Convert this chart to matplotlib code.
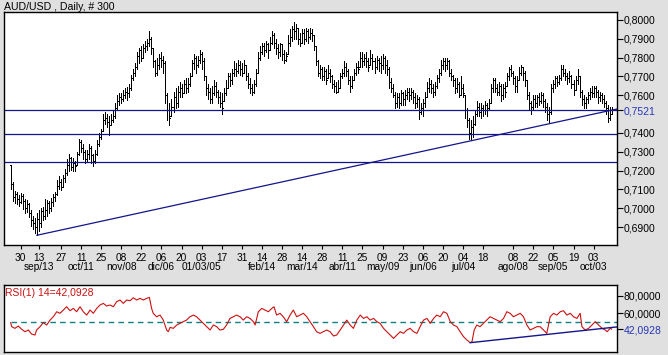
import numpy as np
import matplotlib
matplotlib.use("Agg")
import matplotlib.pyplot as plt
from matplotlib.transforms import blended_transform_factory

plt.rcParams['font.family'] = ['Liberation Sans', 'DejaVu Sans']

TITLE = "AUD/USD , Daily, # 300"

# daily closes / highs / lows (in 1e-4 units)
CLOSE = [7130,7060,7075,7050,7035,7065,7040,7000,7020,6975,
         6935,6920,6900,6945,6920,6985,6960,6990,7030,7000,
         7035,7060,7075,7120,7140,7115,7160,7185,7230,7265,
         7220,7240,7225,7290,7350,7320,7300,7260,7290,7320,
         7280,7250,7290,7340,7380,7395,7470,7480,7460,7440,
         7470,7490,7530,7570,7590,7580,7600,7620,7610,7640,
         7690,7720,7750,7810,7840,7800,7850,7860,7880,7900,
         7850,7780,7720,7760,7800,7790,7770,7600,7520,7480,
         7540,7590,7560,7620,7640,7610,7660,7640,7660,7700,
         7770,7800,7760,7790,7820,7780,7700,7640,7620,7580,
         7610,7650,7620,7590,7560,7530,7610,7640,7700,7680,
         7720,7740,7730,7760,7740,7720,7760,7700,7660,7640,
         7620,7660,7720,7800,7830,7860,7840,7870,7840,7880,
         7920,7880,7850,7830,7870,7820,7790,7810,7880,7910,
         7950,7940,7960,7900,7880,7930,7900,7940,7910,7930,
         7920,7860,7780,7720,7740,7700,7730,7680,7720,7700,
         7660,7650,7620,7640,7700,7720,7750,7730,7680,7650,
         7680,7720,7750,7740,7800,7780,7800,7780,7750,7800,
         7780,7750,7790,7770,7760,7800,7760,7740,7670,7640,
         7600,7560,7590,7560,7610,7580,7600,7620,7600,7620,
         7590,7560,7580,7510,7530,7560,7590,7640,7660,7640,
         7620,7650,7690,7720,7760,7780,7760,7780,7720,7700,
         7680,7640,7660,7600,7640,7610,7520,7470,7400,7430,
         7450,7500,7540,7510,7530,7520,7550,7530,7560,7640,
         7680,7640,7620,7650,7600,7640,7620,7700,7740,7720,
         7690,7650,7680,7720,7750,7720,7680,7600,7560,7540,
         7580,7560,7590,7570,7600,7570,7540,7500,7510,7640,
         7660,7690,7670,7690,7740,7720,7700,7690,7700,7660,
         7630,7680,7700,7620,7580,7560,7580,7600,7620,7610,
         7640,7620,7590,7600,7580,7560,7530,7480,7500,7521]
HIGH = [7228,7140,7090,7085,7070,7080,7075,7050,7045,7030,
        6990,6960,6950,6975,6990,7000,7005,7050,7045,7040,
        7055,7075,7085,7150,7170,7155,7175,7210,7260,7290,
        7270,7265,7250,7300,7370,7360,7340,7310,7310,7340,
        7330,7290,7310,7360,7400,7420,7500,7510,7500,7490,
        7500,7515,7560,7600,7610,7610,7630,7640,7645,7660,
        7710,7740,7770,7830,7850,7860,7870,7890,7900,7940,
        7910,7850,7790,7800,7820,7830,7810,7780,7610,7560,
        7580,7620,7640,7650,7670,7660,7680,7690,7690,7720,
        7790,7820,7810,7810,7840,7830,7800,7700,7660,7640,
        7650,7680,7670,7630,7620,7610,7640,7680,7720,7720,
        7740,7780,7770,7790,7780,7770,7790,7760,7720,7690,
        7660,7680,7740,7830,7860,7880,7880,7890,7880,7910,
        7940,7930,7900,7870,7880,7870,7840,7830,7920,7950,
        7970,7990,7980,7960,7930,7950,7950,7960,7950,7960,
        7950,7920,7860,7790,7760,7750,7750,7740,7760,7740,
        7710,7680,7670,7680,7720,7740,7780,7770,7740,7700,
        7700,7740,7770,7780,7830,7830,7820,7830,7800,7840,
        7820,7800,7810,7800,7810,7820,7810,7790,7750,7690,
        7660,7620,7610,7610,7630,7620,7630,7640,7640,7640,
        7630,7610,7600,7590,7560,7580,7620,7670,7690,7680,
        7660,7670,7710,7740,7790,7800,7800,7800,7790,7740,
        7710,7690,7690,7670,7700,7660,7600,7530,7480,7470,
        7490,7520,7570,7560,7560,7550,7570,7560,7580,7660,
        7690,7690,7660,7670,7660,7660,7670,7720,7750,7760,
        7730,7700,7700,7750,7760,7750,7730,7680,7620,7570,
        7600,7600,7600,7610,7620,7610,7580,7560,7540,7660,
        7680,7700,7700,7710,7760,7760,7740,7720,7730,7710,
        7680,7700,7740,7700,7630,7600,7590,7620,7640,7650,
        7650,7650,7630,7620,7610,7600,7570,7550,7540,7540]
LOW = [7104,7040,7030,7020,7010,7025,6995,6975,6980,6955,
       6905,6890,6870,6856,6880,6900,6935,6945,6960,6975,
       6985,7010,7040,7070,7100,7095,7110,7140,7175,7200,
       7205,7200,7195,7230,7280,7300,7260,7240,7250,7260,
       7240,7225,7240,7280,7330,7370,7410,7450,7430,7390,
       7440,7460,7480,7520,7550,7560,7570,7585,7575,7590,
       7630,7680,7700,7740,7770,7780,7800,7830,7840,7860,
       7820,7750,7700,7710,7740,7750,7720,7560,7470,7440,
       7490,7510,7530,7540,7590,7590,7610,7610,7620,7650,
       7700,7740,7720,7750,7770,7740,7680,7600,7580,7560,
       7560,7600,7590,7560,7540,7500,7570,7600,7640,7650,
       7660,7700,7700,7720,7710,7700,7720,7680,7640,7610,
       7600,7610,7650,7720,7790,7820,7810,7830,7800,7840,
       7870,7850,7820,7800,7810,7790,7770,7780,7820,7860,
       7890,7900,7900,7870,7860,7880,7870,7890,7880,7900,
       7890,7840,7760,7700,7690,7680,7680,7660,7690,7670,
       7640,7620,7610,7615,7640,7690,7700,7700,7660,7620,
       7640,7680,7710,7720,7750,7750,7760,7750,7730,7760,
       7740,7720,7740,7730,7720,7740,7720,7710,7640,7620,
       7590,7530,7540,7530,7550,7550,7550,7580,7570,7580,
       7560,7530,7540,7476,7500,7490,7540,7590,7620,7610,
       7590,7600,7640,7670,7710,7740,7730,7740,7700,7680,
       7650,7610,7620,7590,7600,7590,7480,7430,7370,7361,
       7380,7440,7490,7490,7480,7490,7500,7490,7520,7560,
       7620,7620,7600,7600,7570,7580,7590,7650,7680,7700,
       7660,7620,7620,7680,7710,7680,7650,7580,7520,7500,
       7520,7540,7540,7550,7560,7540,7510,7470,7458,7500,
       7620,7640,7650,7660,7680,7700,7680,7660,7670,7640,
       7600,7630,7660,7590,7550,7530,7530,7560,7580,7590,
       7590,7590,7560,7570,7560,7540,7500,7458,7470,7500]

LEVELS = [0.7521, 0.7392, 0.7244]
TREND = [(13, 0.6856), (299, 0.7521)]
LAST_PRICE = 0.7521
Y_TICKS = [0.69, 0.70, 0.71, 0.72, 0.73, 0.74, 0.76, 0.77, 0.78, 0.79, 0.80]

X_TICKS = [5, 14, 25, 35, 45, 55, 65, 75, 85, 95, 105, 115, 125, 135, 145,
           155, 165, 175, 185, 195, 205, 215, 225, 235, 250, 260, 270, 280, 290]
X_LABELS = ["30", "13", "27", "11", "25", "08", "22", "06", "20", "03", "17",
            "31", "14", "28", "14", "28", "11", "25", "09", "23", "06", "20",
            "04", "18", "08", "22", "05", "19", "03"]
MONTH_AT = [1, 3, 5, 7, 9, 12, 14, 16, 18, 20, 22, 24, 26, 28]
MONTH_TEXT = ["sep/13", "oct/11", "nov/08", "dic/06", "01/03/05", "feb/14",
              "mar/14", "abr/11", "may/09", "jun/06", "jul/04", "ago/08",
              "sep/05", "oct/03"]

RSI_IDX = [0, 0.5, 2.1, 3.8, 5.5, 7.1, 8.8, 10.4, 12.1, 12.9, 14.6, 16.2, 17.9,
           19.6, 21.2, 22.9, 24.5, 26.2, 27.8, 29.5, 31.2, 32.8, 34.5, 36.1,
           37.8, 39.5, 41.1, 42.8, 44.4, 46.1, 47.7, 49.4, 51.1, 52.7, 54.4,
           56.0, 57.7, 59.4, 61.0, 62.7, 64.3, 66.0, 67.6, 69.0, 70.1, 70.9,
           72.6, 74.3, 75.9, 77.6, 78.4, 79.3, 80.9, 82.6, 84.2, 85.9, 87.5,
           89.2, 90.9, 92.5, 94.2, 95.8, 97.5, 99.2, 100.8, 102.5, 104.1,
           105.8, 107.4, 109.1, 110.8, 112.4, 114.1, 115.7, 117.4, 119.1,
           120.7, 121.6, 123.2, 124.9, 126.5, 128.2, 129.9, 131.0, 132.3,
           134.0, 135.6, 137.3, 139.0, 140.6, 142.3, 143.9, 145.6, 147.3,
           148.9, 150.6, 152.2, 153.9, 155.6, 157.2,
           158.9, 160.6, 162.2, 163.9, 165.6, 167.2, 168.9, 170.5, 172.2,
           173.9, 175.5, 177.2, 178.8, 180.5, 182.2, 183.8, 185.5, 187.1,
           188.8, 190.5, 192.1, 193.8, 195.4, 197.1, 198.7, 200.4, 202.1,
           203.7, 205.4, 207.1, 208.7, 210.4, 212.0, 213.7, 215.3, 217.0,
           218.7, 220.3, 222.0, 223.6, 225.3, 227.0, 228.6, 229.5, 230.6,
           231.9, 233.5, 235.2, 236.9, 238.5, 240.2, 241.8, 243.5, 245.2,
           246.8, 248.5, 250.1, 251.8, 253.5, 255.1, 256.8, 258.4, 260.1,
           261.8, 263.4, 265.1, 266.7, 268.4, 270.1, 271.7, 273.4, 275.0,
           276.7, 278.4, 280.0, 281.7, 283.3, 284.2, 285.8, 287.5, 289.2,
           290.8, 292.5, 294.2, 295.8, 296.7, 298.3, 299.0]
RSI_VAL = [49.3, 44.8, 42.9, 45.5, 41.8, 39.1, 41.0, 36.4, 35.3, 41.0, 44.8,
           49.3, 46.7, 52.3, 56.1, 61.8, 60.0, 63.7, 67.5, 63.0, 65.6, 61.8,
           67.5, 61.8, 58.0, 63.7, 60.0, 65.6, 69.4, 71.3, 68.3, 69.4, 67.5,
           73.2, 75.1, 71.3, 75.1, 74.3, 77.7, 75.1, 77.0, 75.1, 77.0, 78.1,
           65.6, 60.0, 56.1, 58.0, 52.3, 41.0, 39.1, 44.0, 42.9, 46.7, 48.6,
           50.5, 52.3, 56.1, 58.0, 56.1, 52.3, 48.6, 44.8, 41.0, 46.7, 44.8,
           41.0, 41.8, 46.7, 54.2, 56.1, 58.0, 56.1, 52.3, 56.1, 54.2, 50.5,
           46.7, 61.8, 65.6, 63.7, 61.8, 65.6, 67.5, 58.0, 60.0, 56.1, 50.5,
           58.0, 63.7, 56.1, 58.0, 60.0, 56.1, 50.5, 44.8, 39.1, 37.2, 39.1,
           41.0,
           39.1, 34.2, 35.3, 41.0, 46.7, 52.3, 46.7, 42.9, 52.3, 58.0, 54.2,
           56.1, 52.3, 54.2, 50.5, 48.6, 42.9, 39.1, 35.3, 31.5, 35.3, 39.1,
           37.2, 41.0, 42.9, 39.1, 37.2, 44.8, 52.3, 54.2, 48.6, 54.2, 58.0,
           56.1, 61.8, 60.0, 50.5, 46.7, 44.8, 39.1, 33.4, 29.6, 26.6, 27.7,
           41.0, 46.7, 44.8, 48.6, 52.3, 56.1, 54.2, 52.3, 50.5, 54.2, 61.8,
           60.0, 56.1, 58.0, 60.0, 56.1, 46.7, 41.0, 42.9, 44.8, 44.8, 41.0,
           37.2, 56.1, 60.0, 58.0, 61.8, 63.0, 58.0, 60.0, 56.1, 54.2, 60.0,
           44.8, 41.0, 42.9, 46.7, 50.5, 46.7, 42.9, 41.0, 39.1, 42.9,
           42.09]
RSI_LAST = 42.0928
RSI_MID = 50
RSI_TICKS = [80, 60]
RSI_TREND = [(228.6, 26.6), (301.5, 44.5)]

BG = '#e0e0e0'
BLUE = '#14148c'
LBLUE = '#2636b8'
RED = '#cc1010'
TEAL = '#108080'

W, H = 668, 355
fig = plt.figure(figsize=(W / 100, H / 100), dpi=100, facecolor=BG)
ax = fig.add_axes([4 / W, 1 - 245 / H, 613 / W, 233 / H])
rx = fig.add_axes([4 / W, 1 - 352 / H, 613 / W, 67 / H])

XMIN, XMAX = -3.33, 301.64
n = len(CLOSE)
idx = np.arange(n)
c = np.array(CLOSE) / 1e4
hi = np.array(HIGH) / 1e4
lo = np.array(LOW) / 1e4
op = np.clip(np.concatenate([[hi[0]], c[:-1]]), lo, hi)

ax.vlines(idx, lo, hi, color='black', lw=0.55, antialiased=False)
ax.hlines(op, idx - 0.5, idx, color='black', lw=0.55, antialiased=False)
ax.hlines(c, idx, idx + 0.5, color='black', lw=0.55, antialiased=False)

for lv in LEVELS:
    ax.axhline(lv, color=BLUE, lw=0.9)
(x0, y0), (x1, y1) = TREND
slope = (y1 - y0) / (x1 - x0)
ax.plot([x0, XMAX], [y0, y0 + slope * (XMAX - x0)], color=BLUE, lw=0.9)

ax.set_xlim(XMIN, XMAX)
ax.set_ylim(0.68044, 0.80425)
ax.set_facecolor('white')
for s in ax.spines.values():
    s.set_color('black'); s.set_linewidth(1.0)

yt = Y_TICKS + [LAST_PRICE]
ax.set_yticks(yt)
ax.set_yticklabels([f"{v:.4f}".replace('.', ',') for v in yt])
ax.yaxis.tick_right()
ax.tick_params(axis='y', direction='out', length=4, width=0.8, pad=1,
               labelsize=7.5, colors='black')
for lab, v in zip(ax.get_yticklabels(), yt):
    if v == LAST_PRICE:
        lab.set_color(LBLUE)

ax.set_xticks(X_TICKS)
ax.set_xticklabels(X_LABELS)
ax.tick_params(axis='x', direction='out', length=3, width=0.8, pad=3,
               labelsize=7.3)
tr = blended_transform_factory(ax.transData, fig.transFigure)
for k, t in zip(MONTH_AT, MONTH_TEXT):
    ax.text(X_TICKS[k], 1 - 267 / H, t, transform=tr, ha='center',
            va='center', fontsize=7.3)

fig.text(4 / W, 1 - 10.5 / H, TITLE, fontsize=7.6, ha='left', va='baseline')

# RSI panel
rx.set_facecolor('white')
rx.set_xlim(XMIN, XMAX)
rx.set_ylim(16.0, 92.2)
rx.plot([0, XMAX], [RSI_MID, RSI_MID], color=TEAL, lw=1.0, dashes=(4, 3))
rx.plot(RSI_IDX, RSI_VAL, color=RED, lw=0.8)
(a0, b0), (a1, b1) = RSI_TREND
rx.plot([a0, a1], [b0, b1], color=BLUE, lw=1.0)
for s in rx.spines.values():
    s.set_color('black'); s.set_linewidth(1.0)
rx.set_xticks([])
rt = RSI_TICKS + [RSI_LAST]
rx.set_yticks(rt)
rx.set_yticklabels([f"{v:.4f}".replace('.', ',') for v in rt])
rx.yaxis.tick_right()
rx.tick_params(axis='y', direction='out', length=4, width=0.8, pad=1,
               labelsize=7.5)
for lab, v in zip(rx.get_yticklabels(), rt):
    if v == RSI_LAST:
        lab.set_color(LBLUE)
rx.text(0.002, 0.876, f"RSI(1) 14={RSI_LAST:.4f}".replace('.', ','),
        transform=rx.transAxes, color=RED, fontsize=7.5, ha='left', va='center')

fig.savefig('out.png', dpi=100, facecolor=BG)
